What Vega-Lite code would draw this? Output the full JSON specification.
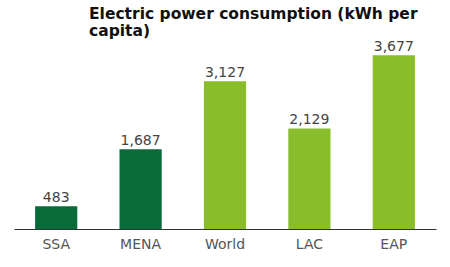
{
  "$schema": "https://vega.github.io/schema/vega-lite/v6.json",
  "autosize": "none",
  "padding": {"left": 14, "right": 14, "top": 40, "bottom": 38},
  "width": 422,
  "height": 189,
  "background": "white",
  "title": {
    "text": ["Electric power consumption (kWh per", "capita)"],
    "anchor": "start",
    "frame": "group",
    "dx": 75,
    "offset": 1,
    "font": "DejaVu Sans",
    "fontSize": 15.5,
    "fontWeight": "bold",
    "color": "#111111",
    "lineHeight": 17
  },
  "data": {
    "values": [
      {"region": "SSA", "value": 483, "group": "dark"},
      {"region": "MENA", "value": 1687, "group": "dark"},
      {"region": "World", "value": 3127, "group": "light"},
      {"region": "LAC", "value": 2129, "group": "light"},
      {"region": "EAP", "value": 3677, "group": "light"}
    ]
  },
  "config": {"view": {"stroke": null}},
  "encoding": {
    "x": {
      "field": "region",
      "type": "nominal",
      "sort": null,
      "scale": {"paddingInner": 0.5, "paddingOuter": 0.25},
      "axis": {
        "title": null,
        "labelAngle": 0,
        "labelFont": "DejaVu Sans",
        "labelFontSize": 14,
        "labelColor": "#555555",
        "labelPadding": 8,
        "ticks": false,
        "domainColor": "#333333",
        "domainWidth": 1
      }
    },
    "y": {
      "field": "value",
      "type": "quantitative",
      "scale": {"domain": [0, 4000]},
      "axis": null
    }
  },
  "layer": [
    {
      "mark": {"type": "bar"},
      "encoding": {
        "color": {
          "field": "group",
          "type": "nominal",
          "scale": {"domain": ["dark", "light"], "range": ["#0A6B3A", "#8ABD2B"]},
          "legend": null
        }
      }
    },
    {
      "mark": {"type": "text", "baseline": "alphabetic", "dy": -4, "font": "DejaVu Sans", "fontSize": 14, "color": "#444444"},
      "encoding": {
        "text": {"field": "value", "type": "quantitative", "format": ",d"}
      }
    }
  ]
}
